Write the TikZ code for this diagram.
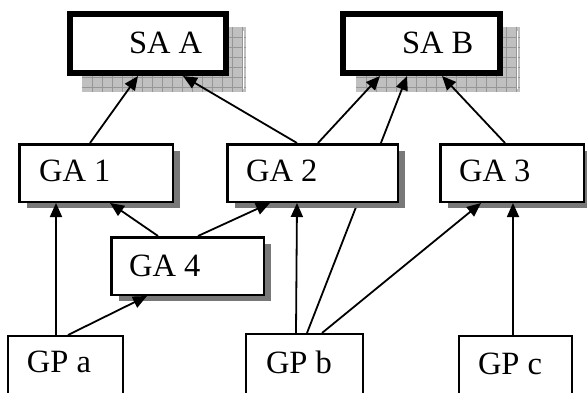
\documentclass[tikz,border=0pt]{standalone}
\usepackage{fontspec}
\setmainfont{Liberation Serif}
\usetikzlibrary{arrows.meta,shadows}
\pgfdeclarelayer{back}
\pgfdeclarelayer{behind}
\pgfsetlayers{back,behind,main}
\definecolor{shadowgray}{RGB}{120,120,120}
\definecolor{hatchfill}{RGB}{192,192,192}
\definecolor{hatchline}{RGB}{150,150,150}
\tikzset{
  box/.style={rectangle, anchor=north west, fill=white, draw=black,
    inner sep=0pt, font=\fontsize{32.5pt}{38pt}\selectfont},
  sabox/.style={box, line width=6pt},
  gabox/.style={box, line width=2.5pt,
    drop shadow={shadow xshift=7.25pt, shadow yshift=-6.5pt, fill=shadowgray, opacity=1}},
  gpbox/.style={box, line width=2pt},
  link/.style={line width=1.8pt, -{Triangle[length=14pt,width=12pt]}},
  hatch/.style={fill=hatchfill, draw=none}
}
% label set inside a box of width #1, indented by #2
\newcommand{\boxtext}[3]{\makebox[#1][l]{\hspace{#2}#3}}
\begin{document}
\begin{tikzpicture}[x=1pt, y=-1pt]
\useasboundingbox (0,0) rectangle (587,392);
\clip (0,0) rectangle (587,392);

% hatched shadows of the two top boxes
\begin{pgfonlayer}{back}
  \foreach \x/\y in {82/27, 356/27}{
    \fill[hatch] (\x,\y) rectangle ++(164,65);
    \foreach \i in {1,...,16}
      \draw[hatchline, line width=0.6pt] (\x+\i*10,\y) -- ++(0,65);
    \foreach \j in {1,...,6}
      \draw[hatchline, line width=0.6pt] (\x,\y+\j*10) -- ++(164,0);
    \draw[white, line width=1pt] (\x+161,\y+4) -- ++(0,58);
  }
\end{pgfonlayer}

% top level
\node[sabox, minimum width=156pt, minimum height=59pt,
      text height=39.6pt, text depth=19.4pt] (saa) at (67,11) {\boxtext{156pt}{59pt}{SA A}};
\node[sabox, minimum width=157pt, minimum height=59pt,
      text height=39.6pt, text depth=19.4pt] (sab) at (340,11) {\boxtext{157pt}{59pt}{SA B}};

% middle level
\node[gabox, minimum width=153.5pt, minimum height=57.5pt,
      text height=37.4pt, text depth=20.1pt] (ga1) at (18,143) {\boxtext{153.5pt}{19.8pt}{GA 1}};
\node[gabox, minimum width=170.5pt, minimum height=57.5pt,
      text height=37.4pt, text depth=20.1pt] (ga2) at (226,143) {\boxtext{170.5pt}{18.8pt}{GA 2}};
\node[gabox, minimum width=143.5pt, minimum height=57.5pt,
      text height=37.4pt, text depth=20.1pt] (ga3) at (439,143) {\boxtext{143.5pt}{18.8pt}{GA 3}};
\node[gabox, minimum width=152.5pt, minimum height=57.5pt,
      text height=38.8pt, text depth=18.7pt] (ga4) at (110,236) {\boxtext{152.5pt}{17.8pt}{GA 4}};

% bottom level
\node[gpbox, minimum width=115pt, minimum height=64pt,
      text height=36.6pt, text depth=27.4pt] (gpa) at (7,335) {\boxtext{115pt}{19pt}{GP a}};
\node[gpbox, minimum width=117pt, minimum height=66pt,
      text height=39pt, text depth=27pt] (gpb) at (245,333) {\boxtext{117pt}{20pt}{GP b}};
\node[gpbox, minimum width=113pt, minimum height=64pt,
      text height=38pt, text depth=26pt] (gpc) at (458,335) {\boxtext{113pt}{19pt}{GP c}};

% link running behind GA 2
\begin{pgfonlayer}{behind}
  \draw[link] ([xshift=62pt]gpb.north west) -- ([xshift=67pt]sab.south west);
\end{pgfonlayer}

% links
\draw[link] ([xshift=72pt]ga1.north west) -- ([xshift=71pt]saa.south west);
\draw[link] ([xshift=71pt]ga2.north west) -- ([xshift=116pt]saa.south west);
\draw[link] ([xshift=92pt]ga2.north west) -- ([xshift=40pt]sab.south west);
\draw[link] ([xshift=66pt]ga3.north west) -- ([xshift=102pt]sab.south west);
\draw[link] ([xshift=48pt]ga4.north west) -- ([xshift=92pt]ga1.south west);
\draw[link] ([xshift=88pt]ga4.north west) -- ([xshift=44pt]ga2.south west);
\draw[link] ([xshift=49pt]gpa.north west) -- ([xshift=38pt]ga1.south west);
\draw[link] ([xshift=61pt]gpa.north west) -- ([xshift=37pt]ga4.south west);
\draw[link] ([xshift=51pt]gpb.north west) -- ([xshift=71pt]ga2.south west);
\draw[link] ([xshift=77pt]gpb.north west) -- ([xshift=42pt]ga3.south west);
\draw[link] ([xshift=55pt]gpc.north west) -- ([xshift=74pt]ga3.south west);
\end{tikzpicture}
\end{document}
